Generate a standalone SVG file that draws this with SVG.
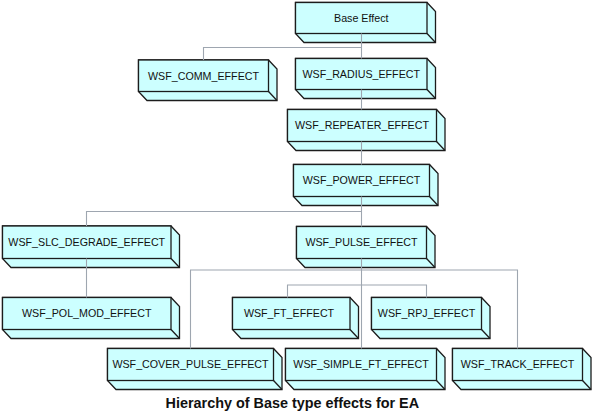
<svg xmlns="http://www.w3.org/2000/svg" width="593" height="416" viewBox="0 0 593 416">
<style>
.box polygon{fill:#ccffff;stroke:#1c1c1c;stroke-width:1.3;stroke-linejoin:miter}
.box rect{fill:#ccffff;stroke:#1c1c1c;stroke-width:1.3}
.box line{stroke:#1c1c1c;stroke-width:1.3}
.box text{font-family:"Liberation Sans",Arial,sans-serif;font-size:10.7px;fill:#111;text-anchor:middle}
.conn path{fill:none;stroke:#9ea6b0;stroke-width:1.1}
.title{font-family:"Liberation Sans",Arial,sans-serif;font-size:14.4px;font-weight:bold;fill:#111;text-anchor:middle}
</style>
<rect width="593" height="416" fill="#ffffff"/>
<g id="n-base" class="box">
<polygon points="295.5,2.5 427,2.5 435.5,11.5 435.5,42.5 304,42.5 295.5,33.5"/>
<rect x="295.5" y="2.5" width="131.5" height="31"/>
<line x1="427" y1="33.5" x2="435.5" y2="42.5"/>
<text x="361.25" y="21.8">Base Effect</text>
</g>
<g id="n-comm" class="box">
<polygon points="138.5,60 268.5,60 277,69 277,100.5 147,100.5 138.5,91.5"/>
<rect x="138.5" y="60" width="130" height="31.5"/>
<line x1="268.5" y1="91.5" x2="277" y2="100.5"/>
<text x="203.5" y="79.5">WSF_COMM_EFFECT</text>
</g>
<g id="n-radius" class="box">
<polygon points="295.5,58.5 427,58.5 435.5,67.5 435.5,98.5 304,98.5 295.5,89.5"/>
<rect x="295.5" y="58.5" width="131.5" height="31"/>
<line x1="427" y1="89.5" x2="435.5" y2="98.5"/>
<text x="361.25" y="77.8">WSF_RADIUS_EFFECT</text>
</g>
<g id="n-repeater" class="box">
<polygon points="287.5,109.5 436.5,109.5 445,118.5 445,150.5 296,150.5 287.5,141.5"/>
<rect x="287.5" y="109.5" width="149" height="32"/>
<line x1="436.5" y1="141.5" x2="445" y2="150.5"/>
<text x="362" y="129.3">WSF_REPEATER_EFFECT</text>
</g>
<g id="n-power" class="box">
<polygon points="293.5,164.5 429.5,164.5 438,173.5 438,205.5 302,205.5 293.5,196.5"/>
<rect x="293.5" y="164.5" width="136" height="32"/>
<line x1="429.5" y1="196.5" x2="438" y2="205.5"/>
<text x="361.5" y="184.3">WSF_POWER_EFFECT</text>
</g>
<g id="n-slc" class="box">
<polygon points="2.5,226 171,226 179.5,235 179.5,267.5 11,267.5 2.5,258.5"/>
<rect x="2.5" y="226" width="168.5" height="32.5"/>
<line x1="171" y1="258.5" x2="179.5" y2="267.5"/>
<text x="86.75" y="246">WSF_SLC_DEGRADE_EFFECT</text>
</g>
<g id="n-pulse" class="box">
<polygon points="296.5,226.5 426.5,226.5 435,235.5 435,267.5 305,267.5 296.5,258.5"/>
<rect x="296.5" y="226.5" width="130" height="32"/>
<line x1="426.5" y1="258.5" x2="435" y2="267.5"/>
<text x="361.5" y="246.3">WSF_PULSE_EFFECT</text>
</g>
<g id="n-polmod" class="box">
<polygon points="2.5,297.5 171,297.5 179.5,306.5 179.5,338.5 11,338.5 2.5,329.5"/>
<rect x="2.5" y="297.5" width="168.5" height="32"/>
<line x1="171" y1="329.5" x2="179.5" y2="338.5"/>
<text x="86.75" y="317.3">WSF_POL_MOD_EFFECT</text>
</g>
<g id="n-ft" class="box">
<polygon points="232.5,297.5 350,297.5 358.5,306.5 358.5,338.5 241,338.5 232.5,329.5"/>
<rect x="232.5" y="297.5" width="117.5" height="32"/>
<line x1="350" y1="329.5" x2="358.5" y2="338.5"/>
<text x="289" y="317.3">WSF_FT_EFFECT</text>
</g>
<g id="n-rpj" class="box">
<polygon points="371.5,297.5 481.5,297.5 490,306.5 490,338.5 380,338.5 371.5,329.5"/>
<rect x="371.5" y="297.5" width="110" height="32"/>
<line x1="481.5" y1="329.5" x2="490" y2="338.5"/>
<text x="426.5" y="317.3">WSF_RPJ_EFFECT</text>
</g>
<g id="n-cover" class="box">
<polygon points="107.5,348.5 273.5,348.5 282,357.5 282,389.5 116,389.5 107.5,380.5"/>
<rect x="107.5" y="348.5" width="166" height="32"/>
<line x1="273.5" y1="380.5" x2="282" y2="389.5"/>
<text x="190.5" y="368.3">WSF_COVER_PULSE_EFFECT</text>
</g>
<g id="n-simple" class="box">
<polygon points="285.5,348.5 436.5,348.5 445,357.5 445,389.5 294,389.5 285.5,380.5"/>
<rect x="285.5" y="348.5" width="151" height="32"/>
<line x1="436.5" y1="380.5" x2="445" y2="389.5"/>
<text x="361" y="368.3">WSF_SIMPLE_FT_EFFECT</text>
</g>
<g id="n-track" class="box">
<polygon points="452.5,348.5 582.5,348.5 591,357.5 591,389.5 461,389.5 452.5,380.5"/>
<rect x="452.5" y="348.5" width="130" height="32"/>
<line x1="582.5" y1="380.5" x2="591" y2="389.5"/>
<text x="517.5" y="368.3">WSF_TRACK_EFFECT</text>
</g>
<g id="connectors" class="conn">
<path d="M361.5 33.5V58.5"/>
<path d="M361.5 47.5H203.5V60"/>
<path d="M361.5 89.5V109.5"/>
<path d="M361.5 141.5V164.5"/>
<path d="M361.5 196.5V226.5"/>
<path d="M361.5 211.5H86.5V226"/>
<path d="M86.5 258.5V297.5"/>
<path d="M361.5 258.5V348.5"/>
<path d="M190.5 348.5V270H517.5V348.5"/>
<path d="M287.5 297.5V285H426.5V297.5"/>
</g>
<text class="title" x="292.3" y="407.7">Hierarchy of Base type effects for EA</text>
</svg>
